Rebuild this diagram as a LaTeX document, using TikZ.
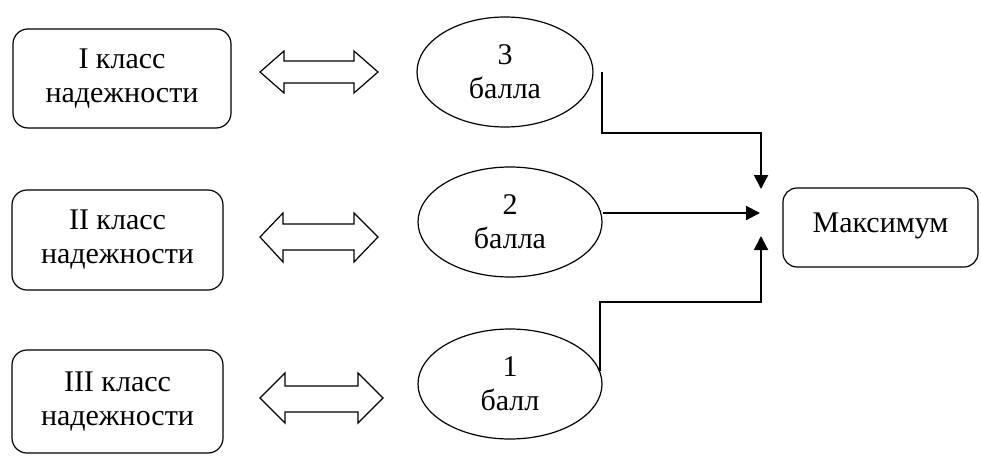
\documentclass[tikz,border=0pt]{standalone}
\usepackage{fontspec}
\setmainfont{Liberation Serif}
\usetikzlibrary{arrows.meta,shapes.geometric}
\tikzset{
  txt/.style={font=\fontsize{30}{34}\selectfont, align=center, inner sep=0pt},
  cls/.style={txt, draw, line width=1.2pt, rounded corners=15pt, minimum width=211pt, minimum height=100pt},
  ball/.style={txt, draw, ellipse, line width=1.2pt, minimum width=184pt, minimum height=110pt},
  maxbox/.style={txt, draw, line width=1.2pt, rounded corners=14pt, minimum width=195pt, minimum height=79pt, text height=21pt, text depth=12pt},
  conn/.style={line width=2pt, -{Triangle[length=14pt,width=14pt]}},
  dbl/.style={draw, line width=1.2pt, line join=miter}
}
\begin{document}
\begin{tikzpicture}[x=1pt,y=-1pt]
\useasboundingbox (0,0) rectangle (981,455);

% class boxes
\node[cls, minimum width=218pt, minimum height=99pt] (c1) at (122,78.5) {I класс\\надежности};
\node[cls] (c2) at (117.5,240) {II класс\\надежности};
\node[cls, minimum height=103pt] (c3) at (117.5,401.5) {III класс\\надежности};

% score ellipses
\node[ball, minimum width=176pt] (e1) at (505,72) {3\\балла};
\node[ball] (e2) at (510,222) {2\\балла};
\node[ball] (e3) at (510,384) {1\\балл};

% result box
\node[maxbox] (m) at (880.5,227.5) {Максимум};

% double arrows
\draw[dbl] (260,72) -- (284,51) -- (284,61) -- (354,61) -- (354,51) -- (378,72)
  -- (354,93) -- (354,83) -- (284,83) -- (284,93) -- cycle;
\draw[dbl] (260,237) -- (283,213) -- (283,224) -- (354,224) -- (354,213) -- (378,237)
  -- (354,262) -- (354,250) -- (283,250) -- (283,262) -- cycle;
\draw[dbl] (260,398) -- (285,373) -- (285,386) -- (358,386) -- (358,373) -- (383,398)
  -- (358,423) -- (358,412) -- (285,412) -- (285,423) -- cycle;

% connectors
\coordinate (k1) at (761,133);
\coordinate (t1) at (761,189);
\coordinate (t2) at (760,213);
\coordinate (k3) at (761,302);
\coordinate (t3) at (761,236);

\draw[conn] ([xshift=8pt]e1.east) |- (k1) -- (t1);
\draw[conn] (t2 -| e2.east) -- (t2);
\draw[conn] (e3.8) |- (k3) -- (t3);
\end{tikzpicture}
\end{document}
